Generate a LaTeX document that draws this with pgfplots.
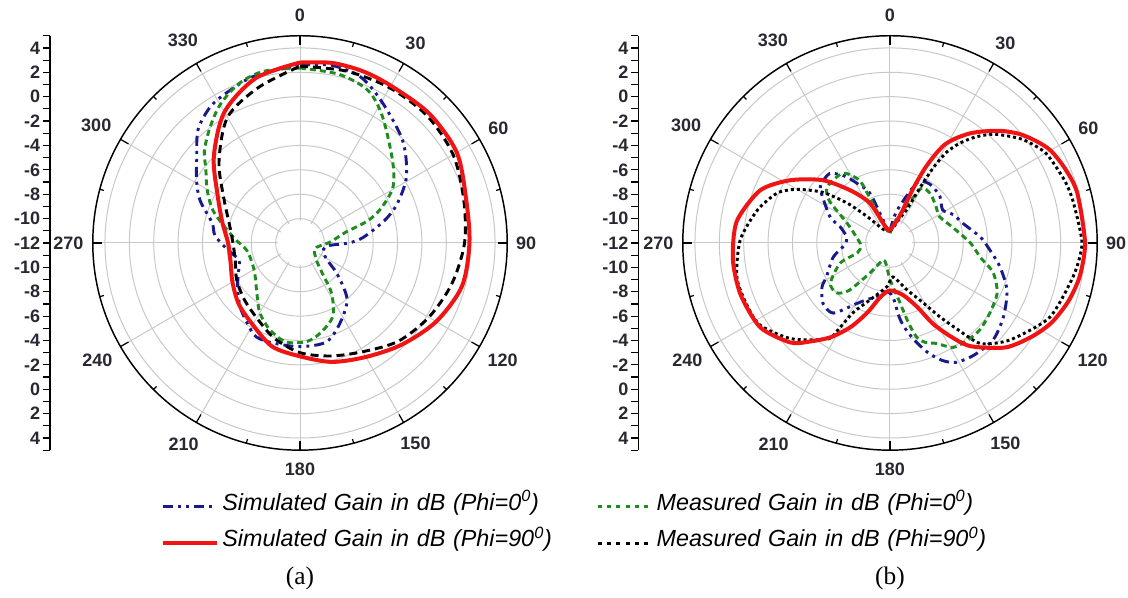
\documentclass[border=0pt]{standalone}
\usepackage{fontspec}
\setmainfont{Liberation Sans}
\newfontfamily\capfont{Liberation Serif}
\usepackage{pgfplots}
\usepackage{pgfplotstable}
\pgfplotsset{compat=1.18}

\definecolor{simblue}{RGB}{25,25,140}
\definecolor{measgreen}{RGB}{30,140,30}
\definecolor{simred}{RGB}{240,20,20}
\definecolor{gridgray}{RGB}{200,200,200}
\definecolor{labelgray}{RGB}{40,40,50}

% gain in dB against angle (degrees, clockwise from the top)
% ---------------- (a) ----------------
\pgfplotstableread{
t g
0 2.6
10 2.8
20 2.5
30 1.4
45 -0.1
58 -1.7
68 -3.4
75 -4.8
85 -6.8
90 -8.0
95 -9.6
105 -10.0
115 -9.8
122 -9.4
130 -8.0
140 -6.0
153 -4.7
165 -3.6
180 -3.5
195 -3.5
205 -3.5
213 -4.1
223 -4.8
233 -5.6
243 -6.3
254 -6.8
265 -6.0
275 -5.0
283 -4.6
293 -3.1
301 -2.1
309 -1.1
318 0.5
327 1.4
336 1.8
345 2.2
360 2.6
}\aSimZero

\pgfplotstableread{
t g
0 2.35
13 2.2
24 1.7
33 0.4
48 -1.8
59 -3.1
67 -4.8
72 -6.2
77 -8.2
88 -9.5
105 -10.6
122 -10.6
138 -9.9
144 -8.8
148 -7.1
156 -5.4
167 -4.45
176 -3.9
188 -3.8
199 -4.45
210 -5.4
221 -6.6
233 -7.4
243 -7.7
262 -7.6
275 -6.5
290 -4.45
300 -3.2
308 -2.2
314 -1.1
322 0.0
330 1.1
339 2.0
348 2.4
360 2.35
}\aMeasZero

\pgfplotstableread{
t g
0 2.8
10 3.0
20 3.0
30 2.9
45 3.0
60 2.85
75 2.1
90 1.9
105 1.75
120 0.9
135 -0.2
150 -1.2
165 -1.9
180 -2.7
195 -3.2
210 -4.25
225 -4.9
240 -5.6
255 -6.1
270 -6.1
285 -5.4
300 -4.2
315 -2.0
330 0.4
345 2.0
360 2.8
}\aSimNinety

\pgfplotstableread{
t g
0 2.5
15 2.6
30 2.7
45 2.75
60 2.5
75 1.9
90 1.5
105 0.9
120 0.2
135 -0.6
150 -1.7
165 -2.4
180 -3.0
195 -3.9
210 -4.9
225 -5.5
240 -6.0
255 -6.5
270 -6.5
285 -6.0
300 -4.8
315 -2.6
330 -0.1
345 1.2
360 2.5
}\aMeasNinety

% ---------------- (b) ----------------
\pgfplotstableread{
t g
0 -11.0
12 -9.3
24 -6.6
31 -6.2
37 -6.2
47 -6.4
58 -6.9
66 -6.3
75 -5.8
86 -4.6
92 -4.0
102 -2.8
112 -1.65
123 -0.9
133 -0.4
143 -0.5
151 -0.8
156 -1.45
161 -2.5
166 -3.8
170 -4.9
173 -5.9
177 -7.6
185 -8.0
195 -7.4
202 -7.0
209 -6.3
219 -4.6
228 -4.6
237 -5.35
242 -6.1
256 -7.2
268 -8.3
278 -8.4
288 -7.7
293 -6.7
303 -5.5
309 -4.65
319 -4.45
326 -5.4
331 -6.4
338 -7.6
343 -10.0
350 -10.8
360 -11.0
}\bSimZero

\pgfplotstableread{
t g
0 -11.2
15 -10.0
25 -8.5
30 -6.8
40 -6.8
52 -7.2
62 -7.4
76 -6.7
90 -5.4
99 -4.5
106 -3.2
115 -2.3
125 -2.0
134 -1.75
142 -1.8
149 -2.0
155 -2.9
160 -3.3
164 -3.9
167 -5.3
171 -7.2
180 -9.0
190 -10.2
202 -10.5
212 -9.4
216 -8.5
221 -6.8
227 -6.0
236 -6.1
248 -7.6
253 -9.2
265 -9.6
280 -9.2
295 -8.1
305 -5.9
312 -5.1
326 -5.1
334 -6.3
336 -8.1
339 -9.7
348 -11.0
360 -11.2
}\bMeasZero

\pgfplotstableread{
t g
0 -11.0
10 -10.6
18 -10.0
21 -9.2
23 -7.2
25 -5.3
27 -3.9
29 -2.8
32 -1.9
36 -0.9
40 -0.05
45 1.0
50 1.9
55 2.6
60 3.2
67 3.6
75 3.9
90 4.0
100 3.8
108 3.4
116 2.8
123 2.0
132 0.8
142 -1.25
147 -2.85
152 -4.5
157 -6.3
166 -7.6
180 -8.1
190 -7.5
198 -6.0
205 -4.4
212 -2.9
219 -1.6
225 -0.45
237 0.7
251 0.97
264 0.96
278 0.7
292 -0.5
302 -2.3
313 -4.45
323 -6.6
333 -8.3
341 -10.3
350 -10.9
360 -11.0
}\bSimNinety

\pgfplotstableread{
t g
0 -11.0
12 -10.7
22 -9.8
27 -8.8
28.5 -6.8
30 -4.8
32 -3.2
35 -2.0
39 -0.8
44 0.4
52 1.8
60 2.75
70 3.2
77 3.4
90 3.75
100 3.3
115 2.45
129 0.65
138 -0.9
142 -3.0
146 -4.7
151 -6.4
160 -7.9
175 -9.2
184 -8.4
199 -7.1
208 -5.5
211 -3.6
213 -2.6
226 -0.7
239 0.7
256 0.9
271 0.3
284 -0.8
294 -1.9
300 -3.2
307 -5.1
313 -7.2
319 -9.1
335 -10.8
360 -11.0
}\bMeasNinety

\tikzset{
  simzero/.style={simblue, line width=2.2pt,
    dash pattern=on 7.5pt off 3.75pt on 2.25pt off 3.75pt on 2.25pt off 3.75pt},
  measzero/.style={measgreen, line width=2.2pt, dash pattern=on 4.5pt off 3pt},
  simninety/.style={simred, line width=3pt},
  measninetydash/.style={black, line width=2.2pt, dash pattern=on 6pt off 3.75pt},
  measninetydot/.style={black, line width=2.2pt, dash pattern=on 2.25pt off 2.25pt},
  anglabel/.style={font=\bfseries\fontsize{13.5}{14}\selectfont, text=labelgray, inner sep=0pt},
}

% radius = gain + 12 dB, so the centre is -12 dB and the rim +5 dB
\newcommand{\gain}[2]{%
  \addplot[#1, forget plot] table[
    x expr={(\thisrow{g}+12)*sin(\thisrow{t})},
    y expr={(\thisrow{g}+12)*cos(\thisrow{t})}] {#2};}

\newcommand{\alab}[2]{\node[anglabel] at (axis cs:{#2*sin(#1)},{#2*cos(#1)}) {#1};}

\newcommand{\polarframe}{%
  \pgfplotsinvokeforeach{2,4,...,16}{%
    \draw[gridgray, line width=0.75pt] (axis cs:0,0) circle[radius=##1];}%
  \pgfplotsinvokeforeach{0,30,...,330}{%
    \draw[gridgray, line width=0.75pt]
      (axis cs:{1.8*sin(##1)},{1.8*cos(##1)}) -- (axis cs:{17*sin(##1)},{17*cos(##1)});}%
  \draw[black, line width=1.1pt] (axis cs:0,0) circle[radius=17];
  \pgfplotsinvokeforeach{0,30,...,330}{%
    \draw[black, line width=0.9pt]
      (axis cs:{16.25*sin(##1)},{16.25*cos(##1)}) -- (axis cs:{17*sin(##1)},{17*cos(##1)});}%
  \pgfplotsinvokeforeach{15,45,...,345}{%
    \draw[black, line width=0.9pt]
      (axis cs:{16.65*sin(##1)},{16.65*cos(##1)}) -- (axis cs:{17*sin(##1)},{17*cos(##1)});}%
  \alab{0}{18.7}\alab{30}{18.95}\alab{60}{18.8}\alab{90}{18.55}%
  \alab{120}{19.2}\alab{150}{18.95}\alab{180}{18.6}\alab{210}{19.1}%
  \alab{240}{19.2}\alab{270}{19.0}\alab{300}{19.3}\alab{330}{19.2}%
}

\pgfplotsset{
  gainaxis/.style={
    x=9.1425pt, y=9.1425pt,
    ymin=-17, ymax=17, xmax=17.5,
    hide x axis, axis y line*=left,
    clip=false,
    anchor=south west,
    ytick={-17,-16,...,17},
    yticklabels={{},4,{},2,{},0,{},-2,{},-4,{},-6,{},-8,{},-10,{},-12,{},-10,{},-8,{},-6,{},-4,{},-2,{},0,{},2,{},4,{}},
    tick align=outside, major tick length=5.25pt,
    tick style={black, line width=0.9pt},
    y axis line style={black, line width=1.1pt},
    yticklabel style={font=\bfseries\fontsize{13.5}{14}\selectfont, text=labelgray, inner sep=2pt},
  }
}

\begin{document}
\begin{tikzpicture}
\useasboundingbox (0,0) rectangle (846pt,448.5pt);

% (a)
\begin{axis}[gainaxis, xmin=-20.5, at={(37.58pt,110.85pt)},
  legend columns=2,
  legend cell align=left,
  legend image code/.code={\draw[#1] (0pt,0pt) -- (40.5pt,0pt);},
  legend style={draw=none, fill=none, inner sep=0pt, outer sep=0pt,
    at={(0.2394,-0.117)}, anchor=north west,
    font=\itshape\fontsize{17.5}{18}\selectfont,
    row sep=15.5pt,
    nodes={inner xsep=2.5pt, inner ysep=1pt, text width=278pt,
      text height=0.75em, text depth=0.25em},
    /tikz/every even column/.append style={column sep=0pt}},
]
\addlegendimage{simzero}
\addlegendentry{Simulated Gain in dB (Phi=0\textsuperscript{0})}
\addlegendimage{measzero, dash pattern=on 3pt off 4pt}
\addlegendentry{Measured Gain in dB (Phi=0\textsuperscript{0})}
\addlegendimage{simninety}
\addlegendentry{Simulated Gain in dB (Phi=90\textsuperscript{0})}
\addlegendimage{measninetydot, dash pattern=on 3pt off 4pt}
\addlegendentry{Measured Gain in dB (Phi=90\textsuperscript{0})}
\polarframe
\gain{simzero, smooth, tension=0.5}{\aSimZero}
\gain{measzero, smooth, tension=0.5}{\aMeasZero}
\gain{measninetydash, smooth, tension=0.5}{\aMeasNinety}
\gain{simninety, smooth, tension=0.5}{\aSimNinety}
\end{axis}

% (b)
\begin{axis}[gainaxis, xmin=-20.65, at={(478.7pt,110.85pt)}]
\polarframe
\gain{simzero, smooth, tension=0.45}{\bSimZero}
\gain{measzero, smooth, tension=0.45}{\bMeasZero}
\gain{measninetydot, smooth, tension=0.4}{\bMeasNinety}
\gain{simninety, smooth, tension=0.45}{\bSimNinety}
\end{axis}

\node[font=\capfont\fontsize{19}{21}\selectfont] at (225pt,15pt) {(a)};
\node[font=\capfont\fontsize{19}{21}\selectfont] at (667.5pt,15pt) {(b)};
\end{tikzpicture}
\end{document}
